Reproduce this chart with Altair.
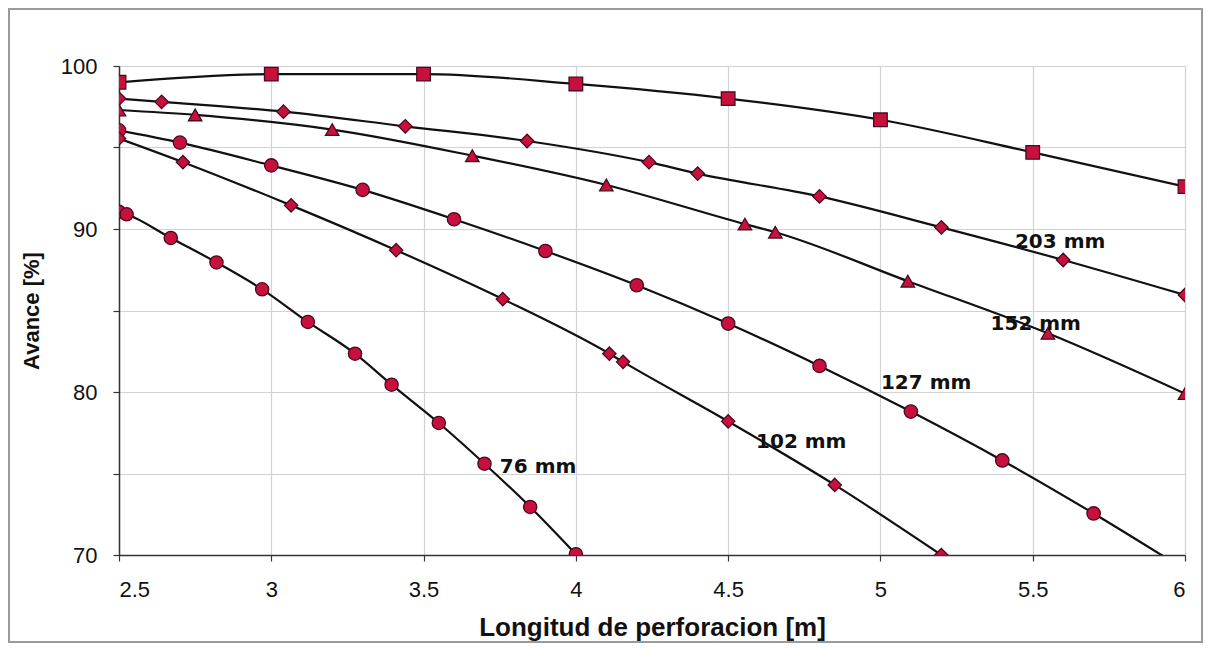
import altair as alt
import pandas as pd

# ---- data ----
x_s1 = [2.5, 3.0, 3.5, 4.0, 4.5, 5.0, 5.5, 6.0]
y_s1 = [99.0, 99.5, 99.5, 98.9, 98.0, 96.7, 94.7, 92.6]

x_203 = [2.5, 2.64, 3.04, 3.44, 3.84, 4.24, 4.40, 4.80, 5.20, 5.60, 6.0]
y_203 = [98.0, 97.8, 97.2, 96.3, 95.4, 94.1, 93.4, 92.0, 90.1, 88.1, 85.95]

x_152 = [2.5, 2.75, 3.2, 3.66, 4.1, 4.555, 4.655, 5.09, 5.55, 6.0]
y_152 = [97.3, 97.0, 96.1, 94.5, 92.7, 90.3, 89.8, 86.8, 83.6, 79.9]

x_127 = [2.5, 2.7, 3.0, 3.3, 3.6, 3.9, 4.2, 4.5, 4.8, 5.1, 5.4, 5.7, 6.0]
y_127 = [96.05, 95.3, 93.9, 92.4, 90.6, 88.65, 86.55, 84.2, 81.6, 78.8, 75.8, 72.55, 69.1]

x_102 = [2.5, 2.71, 3.065, 3.41, 3.76, 4.11, 4.155, 4.5, 4.85, 5.2]
y_102 = [95.55, 94.1, 91.45, 88.7, 85.7, 82.35, 81.85, 78.2, 74.3, 70.0]

x_76 = [2.5, 2.525, 2.67, 2.82, 2.97, 3.12, 3.275, 3.395, 3.55, 3.7, 3.85, 4.0]
y_76 = [91.05, 90.9, 89.45, 87.95, 86.3, 84.3, 82.35, 80.45, 78.1, 75.6, 72.95, 70.05]

series_names = ["s1", "203", "152", "127", "102", "76"]
series_shapes = ["square", "diamond", "triangle-up", "circle", "diamond", "circle"]
series_sizes = [185, 175, 165, 110, 165, 105]

label_text = ["203 mm", "152 mm", "127 mm", "102 mm", "76 mm"]
label_x = [5.59, 5.51, 5.15, 4.74, 3.876]
label_y = [89.2, 84.2, 80.55, 76.95, 75.4]

x_ticks = [2.5, 3, 3.5, 4, 4.5, 5, 5.5, 6]
y_ticks = [70, 75, 80, 85, 90, 95, 100]

# ---- build table ----
rows = []
for name, xs, ys in zip(series_names,
                        [x_s1, x_203, x_152, x_127, x_102, x_76],
                        [y_s1, y_203, y_152, y_127, y_102, y_76]):
    for xv, yv in zip(xs, ys):
        rows.append({"serie": name, "x": xv, "y": yv})
df = pd.DataFrame(rows)
lab = pd.DataFrame({"t": label_text, "x": label_x, "y": label_y})

xs = alt.Scale(domain=[2.5, 6], nice=False, zero=False)
ys = alt.Scale(domain=[70, 100], nice=False, zero=False)

W, H = 1066, 489

base = alt.Chart(df)

lines = base.mark_line(interpolate="monotone", color="#111111", strokeWidth=2.2, clip=True).encode(
    x=alt.X("x:Q", scale=xs,
            axis=alt.Axis(values=x_ticks, format="~g", title="Longitud de perforacion [m]",
                          titleFontSize=26, titlePadding=14, labelPadding=18, tickSize=6)),
    y=alt.Y("y:Q", scale=ys,
            axis=alt.Axis(values=y_ticks, labelExpr="datum.value % 10 == 0 ? datum.label : ''",
                          title="Avance [%]", titleFontSize=22, titlePadding=17,
                          labelPadding=16, tickSize=6)),
    detail="serie:N",
)

points = base.mark_point(filled=True, fill="#c8103f", stroke="#4a0a1c", strokeWidth=1.3,
                         opacity=1, clip=True).encode(
    x=alt.X("x:Q", scale=xs),
    y=alt.Y("y:Q", scale=ys),
    shape=alt.Shape("serie:N", scale=alt.Scale(domain=series_names, range=series_shapes), legend=None),
    size=alt.Size("serie:N", scale=alt.Scale(domain=series_names, range=series_sizes), legend=None),
)

labels = alt.Chart(lab).mark_text(font="DejaVu Sans", fontWeight="bold", fontSize=20,
                                  color="#111111").encode(
    x=alt.X("x:Q", scale=xs),
    y=alt.Y("y:Q", scale=ys),
    text="t:N",
)

frame = alt.Chart(pd.DataFrame({"a": [0]})).mark_rect(
    fillOpacity=0, stroke="#9a9a9a", strokeWidth=2).encode(
    x=alt.value(-110), x2=alt.value(W + 17), y=alt.value(-57), y2=alt.value(H + 87)
)

chart = alt.layer(lines, points, labels, frame).properties(
    width=W, height=H,
    padding={"left": 111, "top": 58, "right": 18, "bottom": 88},
    autosize=alt.AutoSizeParams(type="none"),
    background="white",
).configure_axis(
    labelFont="Liberation Sans", labelFontSize=22, labelColor="#111111",
    titleFont="Liberation Sans", titleFontWeight="bold", titleColor="#111111",
    domainColor="#333333", domainWidth=1.5, tickColor="#333333", tickWidth=1.2,
    gridColor="#d2d2d2", gridWidth=1.2,
).configure_view(stroke="#d2d2d2")

chart.save("out.html", embed_options={"renderer": "svg", "actions": False})
